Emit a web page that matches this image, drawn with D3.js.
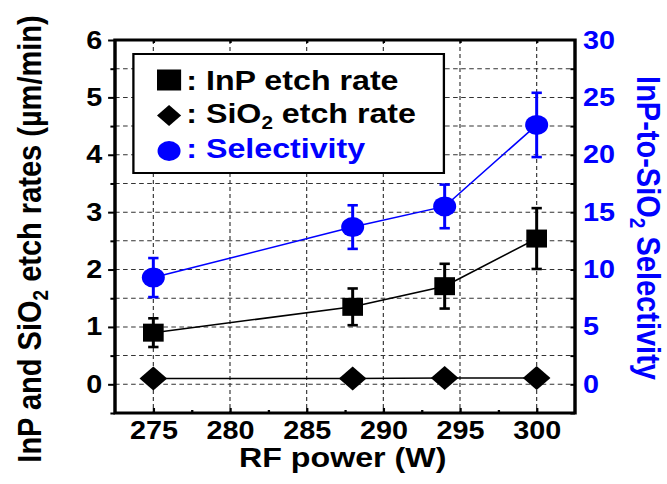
<!DOCTYPE html>
<html>
<head>
<meta charset="utf-8">
<script src="https://cdn.jsdelivr.net/npm/d3@7"></script>
<style>
  body { margin: 0; background: #fff; }
  svg { display: block; }
  text { font-family: Arial, "Liberation Sans", sans-serif; font-weight: bold; }
</style>
</head>
<body>
<svg id="chart"></svg>
<script>
// RF power (W)
var power = [275, 288, 294, 300];
// etch rates, um/min
var inpRate = [0.90, 1.35, 1.71, 2.54];
var inpErr = [0.25, 0.32, 0.39, 0.53];
var sio2Rate = [0.10, 0.10, 0.11, 0.11];
// selectivity
var selectivity = [9.3, 13.7, 15.5, 22.6];
var selErr = [1.7, 1.9, 1.9, 2.8];

var xTicks = [275, 280, 285, 290, 295, 300];
var xMinor = [277.5, 282.5, 287.5, 292.5, 297.5];
var yTicks = [0, 1, 2, 3, 4, 5, 6];
var yMinor = [-0.5, 0.5, 1.5, 2.5, 3.5, 4.5, 5.5];
var y2Ticks = [0, 5, 10, 15, 20, 25, 30];

var blue = "#0000ff";

// the picture is drawn a bit wider than tall, so stretch the viewBox
var W = 580, H = 484;
var svg = d3.select("#chart")
  .attr("width", 667)
  .attr("height", 484)
  .attr("viewBox", "0 0 " + W + " " + H)
  .attr("preserveAspectRatio", "none");

var plotL = 100, plotR = 500, plotT = 40, plotB = 413;

var x = d3.scaleLinear().domain([272.5, 302.5]).range([plotL, plotR]);
var y = d3.scaleLinear().domain([-0.5, 6]).range([plotB, plotT]);
var y2 = d3.scaleLinear().domain([-2.5, 30]).range([plotB, plotT]);

// grid
var grid = svg.append("g")
  .attr("stroke", "#333")
  .attr("stroke-width", 1)
  .attr("stroke-dasharray", "4,3");

grid.selectAll(".gx").data(xTicks).enter().append("line")
  .attr("x1", d => x(d)).attr("x2", d => x(d))
  .attr("y1", plotT).attr("y2", plotB);

grid.selectAll(".gy").data(d3.range(0, 6, 0.5)).enter().append("line")
  .attr("x1", plotL).attr("x2", plotR)
  .attr("y1", d => y(d)).attr("y2", d => y(d));

// axes
svg.append("g").attr("transform", "translate(" + plotL + ",0)")
  .call(d3.axisLeft(y).tickValues(yTicks).tickSize(6).tickPadding(5).tickFormat(d3.format("d")));
svg.append("g").attr("transform", "translate(" + plotL + ",0)")
  .call(d3.axisLeft(y).tickValues(yMinor).tickSize(4).tickFormat(""));

var gBottom = svg.append("g").attr("transform", "translate(0," + plotB + ")")
  .call(d3.axisBottom(x).tickValues(xTicks).tickSize(-5).tickFormat(d3.format("d")));
svg.append("g").attr("transform", "translate(0," + plotB + ")")
  .call(d3.axisBottom(x).tickValues(xMinor).tickSize(-3).tickFormat(""));

svg.append("g").attr("transform", "translate(0," + plotT + ")")
  .call(d3.axisTop(x).tickValues(xTicks).tickSize(-3).tickFormat(""));

svg.append("g").attr("transform", "translate(" + plotR + ",0)")
  .call(d3.axisRight(y2).tickValues(d3.range(-2.5, 30, 2.5)).tickSize(-4).tickFormat(""));
var gRightLab = svg.append("g").attr("transform", "translate(" + plotR + ",0)")
  .call(d3.axisRight(y2).tickValues(y2Ticks).tickSize(0).tickPadding(7).tickFormat(d3.format("d")));

svg.selectAll(".domain").remove();
svg.selectAll(".tick line").attr("stroke", "#000").attr("stroke-width", 2);
svg.selectAll(".tick text").attr("font-size", 25).attr("fill", "#000");
gRightLab.selectAll(".tick text").attr("fill", blue);
gBottom.selectAll(".tick text").attr("y", 26).attr("dy", 0);

// frame
svg.append("rect")
  .attr("x", plotL).attr("y", plotT)
  .attr("width", plotR - plotL).attr("height", plotB - plotT)
  .attr("fill", "none").attr("stroke", "#000").attr("stroke-width", 3);

// legend box (white, drawn over the grid)
var legend = svg.append("g");
legend.append("rect")
  .attr("x", 116).attr("y", 54).attr("width", 270).attr("height", 119)
  .attr("fill", "#fff").attr("stroke", "#000").attr("stroke-width", 2);

// connecting lines
function drawLine(vals, scale, color) {
  var line = d3.line().x((d, i) => x(power[i])).y(d => scale(d));
  svg.append("path").datum(vals)
    .attr("d", line).attr("fill", "none")
    .attr("stroke", color).attr("stroke-width", 1.5);
}
drawLine(inpRate, y, "#000");
drawLine(sio2Rate, y, "#000");
drawLine(selectivity, y2, blue);

// error bars
function drawErr(vals, errs, scale, color) {
  var g = svg.append("g").attr("stroke", color).attr("stroke-width", 2.6);
  vals.forEach(function(v, i) {
    var cx = x(power[i]);
    var y1 = scale(v + errs[i]), y0 = scale(v - errs[i]);
    g.append("line").attr("x1", cx).attr("x2", cx).attr("y1", y1).attr("y2", y0);
    g.append("line").attr("x1", cx - 4.5).attr("x2", cx + 4.5).attr("y1", y1).attr("y2", y1);
    g.append("line").attr("x1", cx - 4.5).attr("x2", cx + 4.5).attr("y1", y0).attr("y2", y0);
  });
}
drawErr(inpRate, inpErr, y, "#000");
drawErr(selectivity, selErr, y2, blue);

// markers
function square(cx, cy, s) {
  return "M" + (cx - s) + "," + (cy - s) + "h" + (2 * s) + "v" + (2 * s) + "h" + (-2 * s) + "Z";
}
function diamond(cx, cy, s) {
  return "M" + cx + "," + (cy - s) + "L" + (cx + s) + "," + cy + "L" + cx + "," + (cy + s) + "L" + (cx - s) + "," + cy + "Z";
}

svg.selectAll(".inp").data(inpRate).enter().append("path")
  .attr("d", (d, i) => square(x(power[i]), y(d), 9)).attr("fill", "#000");
svg.selectAll(".sio2").data(sio2Rate).enter().append("path")
  .attr("d", (d, i) => diamond(x(power[i]), y(d), 12)).attr("fill", "#000");
svg.selectAll(".sel").data(selectivity).enter().append("circle")
  .attr("cx", (d, i) => x(power[i])).attr("cy", d => y2(d)).attr("r", 10).attr("fill", blue);

// legend entries
legend.append("path").attr("d", square(147, 80, 10.5)).attr("fill", "#000");
legend.append("path").attr("d", diamond(147, 115.5, 10.5)).attr("fill", "#000");
legend.append("circle").attr("cx", 147).attr("cy", 151).attr("r", 10).attr("fill", blue);

legend.append("text").attr("x", 162).attr("y", 90).attr("font-size", 28)
  .text(": InP etch rate");
var t2 = legend.append("text").attr("x", 162).attr("y", 123).attr("font-size", 28);
t2.append("tspan").text(": SiO");
t2.append("tspan").attr("font-size", 18).attr("dy", 6).text("2");
t2.append("tspan").attr("dy", -6).text(" etch rate");
legend.append("text").attr("x", 162).attr("y", 158).attr("font-size", 28)
  .attr("fill", blue).text(": Selectivity");

// axis titles
svg.append("text").attr("x", 298).attr("y", 467)
  .attr("text-anchor", "middle").attr("font-size", 28)
  .text("RF power (W)");

var yl = svg.append("text")
  .attr("transform", "translate(36,239) rotate(-90)")
  .attr("text-anchor", "middle").attr("font-size", 29);
yl.append("tspan").text("InP and SiO");
yl.append("tspan").attr("font-size", 19).attr("dy", 6).text("2");
yl.append("tspan").attr("dy", -6).text(" etch rates (\u00b5m/min)");

var yr = svg.append("text")
  .attr("transform", "translate(554,228) rotate(90)")
  .attr("text-anchor", "middle").attr("font-size", 29).attr("fill", blue);
yr.append("tspan").text("InP-to-SiO");
yr.append("tspan").attr("font-size", 19).attr("dy", 6).text("2");
yr.append("tspan").attr("dy", -6).text(" Selectivity");
</script>
</body>
</html>
